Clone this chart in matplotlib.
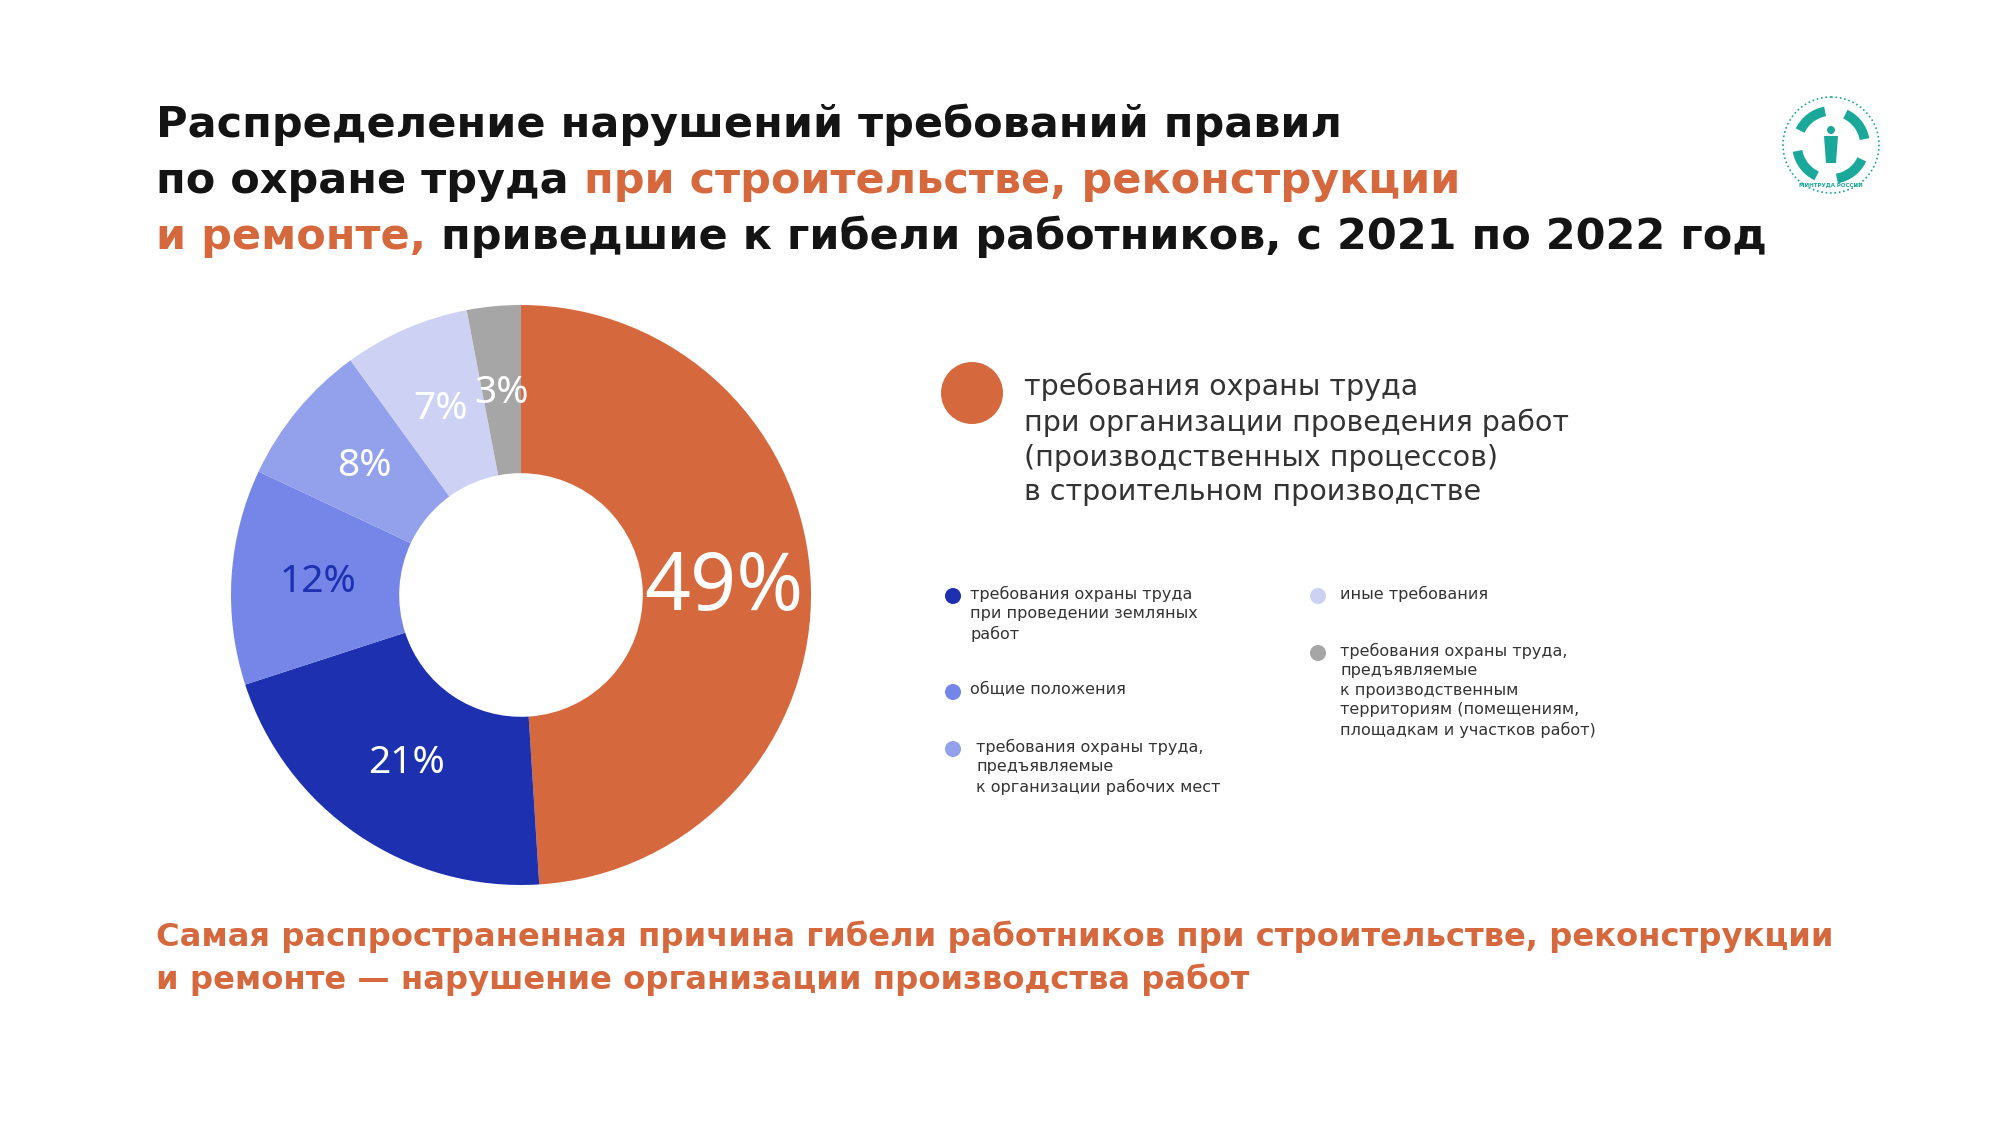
import matplotlib.pyplot as plt
from matplotlib.patches import Circle, Polygon, Arc

plt.rcParams['font.family'] = ['DejaVu Sans']

ORANGE = '#D6683D'
DARK = '#141414'
GREY_TEXT = '#333333'

# chart data
shares = [49, 21, 12, 8, 7, 3]
share_colors = ['#D6683D', '#1C30B0', '#7585E8', '#93A0EC', '#CDD2F5', '#A6A6A6']
label_colors = ['white', 'white', '#1C30B0', 'white', 'white', 'white']
label_sizes = [58, 28, 28, 28, 28, 28]

big_legend_text = ('требования охраны труда\n'
                   'при организации проведения работ\n'
                   '(производственных процессов)\n'
                   'в строительном производстве')
small_legend_texts = [
    'требования охраны труда\nпри проведении земляных\nработ',
    'общие положения',
    'требования охраны труда,\nпредъявляемые\nк организации рабочих мест',
    'иные требования',
    'требования охраны труда,\nпредъявляемые\nк производственным\nтерриториям (помещениям,\nплощадкам и участков работ)',
]
small_legend_colors = ['#1C30B0', '#7585E8', '#93A0EC', '#CDD2F5', '#A6A6A6']

title_lines = [
    [('Распределение нарушений требований правил', DARK)],
    [('по охране труда', DARK), (' при строительстве, реконструкции', ORANGE)],
    [('и ремонте,', ORANGE), (' приведшие к гибели работников, с 2021 по 2022 год', DARK)],
]
footer = ('Самая распространенная причина гибели работников при строительстве, реконструкции\n'
          'и ремонте — нарушение организации производства работ')

fig = plt.figure(figsize=(20, 11.25), dpi=100)

# full-figure overlay in pixel units for the text layout
bg = fig.add_axes([0, 0, 1, 1])
bg.set_xlim(0, 2000)
bg.set_ylim(1125, 0)
bg.axis('off')

### title with mixed colours
y = 137
for parts in title_lines:
    prev = None
    for txt, col in parts:
        if prev is None:
            prev = bg.text(156, y, txt, fontsize=31, fontweight='bold', color=col,
                           va='baseline', ha='left')
        else:
            prev = bg.annotate(txt, xy=(1, 0), xycoords=prev, fontsize=31,
                               fontweight='bold', color=col, va='bottom', ha='left')
    y += 56

### donut
cx, cy, r = 521, 595, 290
ax = fig.add_axes([(cx - r) / 2000, 1 - (cy + r) / 1125, 2 * r / 2000, 2 * r / 1125])
wedges, _, autotexts = ax.pie(
    shares,
    colors=share_colors,
    startangle=90,
    counterclock=False,
    radius=1,
    autopct=lambda p: f'{p:.0f}%',
    pctdistance=0.7,
    wedgeprops=dict(width=0.58, linewidth=0),
)
for t, col, fs in zip(autotexts, label_colors, label_sizes):
    t.set_color(col)
    t.set_fontsize(fs)
    t.set_family(['Noto Sans', 'DejaVu Sans'])
ax.set_xlim(-1, 1)
ax.set_ylim(-1, 1)

### big legend entry
bg.add_patch(Circle((972, 393), 31, color=share_colors[0], lw=0))
bg.text(1024, 373, big_legend_text, fontsize=20.5, color=GREY_TEXT,
        va='top', ha='left', linespacing=1.31)

### small legend entries
dot_pos = [(953, 596), (953, 692), (953, 749), (1318, 596), (1318, 653)]
text_x = [970, 970, 976, 1340, 1340]
for (dx, dy), tx, txt, col in zip(dot_pos, text_x, small_legend_texts, small_legend_colors):
    bg.add_patch(Circle((dx, dy), 8, color=col, lw=0))
    bg.text(tx, dy - 10, txt, fontsize=11.5, color=GREY_TEXT,
            va='top', ha='left', linespacing=1.36)

### footer
bg.text(156, 921, footer, fontsize=23.2, fontweight='bold', color=ORANGE,
        va='top', ha='left', linespacing=1.4)

### logo (rough sketch)
teal = '#1AA89A'
lx, ly = 1831, 145
for a in [25, 115, 205, 295]:
    bg.add_patch(Arc((lx, ly), 68, 68, theta1=a, theta2=a + 55, color=teal, lw=7))
bg.add_patch(Circle((lx, ly - 15), 4, color=teal, lw=0))
bg.add_patch(Polygon([(lx - 7, ly - 9), (lx + 7, ly - 9), (lx + 5, ly + 18),
                      (lx - 5, ly + 18)], closed=True, color=teal, lw=0))
bg.add_patch(Circle((lx, ly), 48, fill=False, ec=teal, lw=1.2, ls=':'))
bg.text(lx, ly + 40, 'МИНТРУДА РОССИИ', fontsize=4, color=teal,
        fontweight='bold', ha='center', va='center')

fig.savefig('out.png', dpi=100)
